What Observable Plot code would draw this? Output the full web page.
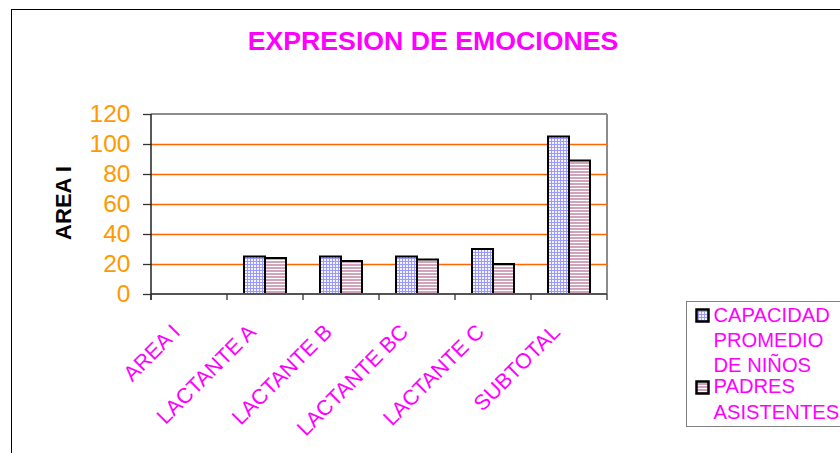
<!DOCTYPE html>
<html>
<head>
<meta charset="utf-8">
<script src="https://cdn.jsdelivr.net/npm/d3@7"></script>
<script src="https://cdn.jsdelivr.net/npm/@observablehq/plot@0.6"></script>
<style>
html,body{margin:0;padding:0;background:#fff;}
#wrap{position:relative;width:840px;height:453px;overflow:hidden;font-family:Arial,"Liberation Sans",sans-serif;}
#frame{position:absolute;left:11px;top:9px;width:900px;height:500px;border-left:1.5px solid #000;border-top:1.5px solid #000;}
#title{position:absolute;left:0;width:866px;top:27.5px;text-align:center;font-size:26.7px;line-height:26.7px;font-weight:bold;color:#FF00FF;white-space:nowrap;}
#ytitle{position:absolute;left:13.5px;top:192px;width:100px;height:22px;line-height:22px;font-size:22px;font-weight:bold;text-align:center;transform:rotate(-90deg);color:#000;white-space:nowrap;}
#chart{position:absolute;left:0;top:0;}
#legend{position:absolute;left:686px;top:300.5px;width:200px;height:124px;border:1.5px solid #808080;}
.sw{position:absolute;left:695px;}
.lab{position:absolute;left:713.5px;width:124px;font-size:20.2px;color:#FF00FF;}
</style>
</head>
<body>
<svg width="0" height="0" style="position:absolute">
  <defs>
    <pattern id="pCap" width="3" height="3" patternUnits="userSpaceOnUse">
      <rect width="3" height="3" fill="#F4F4FF"/>
      <rect width="3" height="1" fill="#9999FF"/>
      <rect width="1" height="3" fill="#9999FF"/>
    </pattern>
    <pattern id="pPad" width="3" height="3" patternUnits="userSpaceOnUse">
      <rect width="3" height="3" fill="#FFFFFF"/>
      <rect width="3" height="2" fill="#D2A4BC"/>
    </pattern>
  </defs>
</svg>
<div id="wrap">
  <div id="frame"></div>
  <div id="chart"></div>
  <div id="title"></div>
  <div id="ytitle"></div>
  <div id="legend"></div>
</div>
<script>
const chartTitle = "EXPRESION DE EMOCIONES";
const yTitle = "AREA I";
const categories = ["AREA I", "LACTANTE A", "LACTANTE B", "LACTANTE BC", "LACTANTE C", "SUBTOTAL"];
const seriesNames = ["CAPACIDAD PROMEDIO DE NIÑOS", "PADRES ASISTENTES"];
const capacidadValues = [null, 25, 25, 25, 30, 105];
const padresValues = [null, 24, 22, 23, 20, 89];
const yTicks = [0, 20, 40, 60, 80, 100, 120];
const gridTicks = [20, 40, 60, 80, 100];
const patternFills = ["url(#pCap)", "url(#pPad)"];

const seriesValues = [capacidadValues, padresValues];
const rows = [];
categories.forEach((c, i) => {
  seriesNames.forEach((s, j) => {
    rows.push({category: c, series: s, value: seriesValues[j][i]});
  });
});

const plot = Plot.plot({
  width: 840,
  height: 453,
  marginLeft: 151,
  marginRight: 233,
  marginTop: 114,
  marginBottom: 159,
  style: {background: "transparent", fontFamily: "Arial, 'Liberation Sans', sans-serif", color: "#222", overflow: "visible"},
  fx: {domain: categories, padding: 0},
  x: {domain: seriesNames, paddingInner: 0, paddingOuter: 0.7273, axis: null},
  y: {domain: [0, 120]},
  color: {domain: seriesNames, range: patternFills},
  marks: [
    Plot.gridY(gridTicks, {stroke: "#FF6600", strokeOpacity: 1, strokeWidth: 1.3}),
    Plot.barY(rows, {fx: "category", x: "series", y: "value", fill: "series", stroke: "#000", strokeWidth: 2}),
    Plot.axisY(yTicks, {tickSize: 8, tickPadding: 13, fontSize: 24.5, fill: "#FF9900", stroke: "#333", strokeWidth: 1.3, label: null}),
    Plot.axisFx({anchor: "bottom", tickSize: 0, tickPadding: 34, tickRotate: -45, dx: -13, fontSize: 21.5, fill: "#FF00FF", label: null})
  ]
});
document.getElementById("chart").appendChild(plot);

// plot-area frame and boundary ticks from the scales
const svg = d3.select(plot);
const fxs = plot.scale("fx"), ys = plot.scale("y");
const bounds = categories.map(c => fxs.apply(c));
const xEnd = fxs.apply(categories[categories.length - 1]) + fxs.bandwidth;
bounds.push(xEnd);
const x0 = bounds[0];
const yTop = ys.apply(yTicks[yTicks.length - 1]), yBot = ys.apply(0);
const g = svg.insert("g", "g").attr("aria-label", "frame");
g.append("line").attr("x1", x0).attr("x2", xEnd).attr("y1", yTop).attr("y2", yTop).attr("stroke", "#8c8c8c").attr("stroke-width", 2);
g.append("line").attr("x1", xEnd).attr("x2", xEnd).attr("y1", yTop).attr("y2", yBot).attr("stroke", "#8c8c8c").attr("stroke-width", 2);
const g2 = svg.append("g").attr("aria-label", "axes");
g2.append("line").attr("x1", x0).attr("x2", xEnd).attr("y1", yBot).attr("y2", yBot).attr("stroke", "#555").attr("stroke-width", 2);
g2.append("line").attr("x1", x0).attr("x2", x0).attr("y1", yTop).attr("y2", yBot + 6).attr("stroke", "#222").attr("stroke-width", 1.5);
bounds.forEach(b => {
  g2.append("line").attr("x1", b).attr("x2", b).attr("y1", yBot).attr("y2", yBot + 6).attr("stroke", "#333").attr("stroke-width", 1.3);
});

// titles
document.getElementById("title").textContent = chartTitle;
document.getElementById("ytitle").textContent = yTitle;

// legend
const wrap = document.getElementById("wrap");
const swTops = [307.5, 379.5];
const labTops = [302.6, 372.6];
const labLH = [25, 26];
seriesNames.forEach((s, j) => {
  const sw = document.createElementNS("http://www.w3.org/2000/svg", "svg");
  sw.setAttribute("class", "sw");
  sw.setAttribute("width", 16);
  sw.setAttribute("height", 16);
  sw.style.top = swTops[j] + "px";
  const r = document.createElementNS("http://www.w3.org/2000/svg", "rect");
  r.setAttribute("x", 1.5); r.setAttribute("y", 1.5);
  r.setAttribute("width", 12); r.setAttribute("height", 12);
  r.setAttribute("fill", patternFills[j]);
  r.setAttribute("stroke", "#000");
  r.setAttribute("stroke-width", 2.5);
  sw.appendChild(r);
  wrap.appendChild(sw);
  const lab = document.createElement("div");
  lab.className = "lab";
  lab.style.top = labTops[j] + "px";
  lab.style.lineHeight = labLH[j] + "px";
  lab.textContent = s;
  wrap.appendChild(lab);
});
</script>
</body>
</html>
